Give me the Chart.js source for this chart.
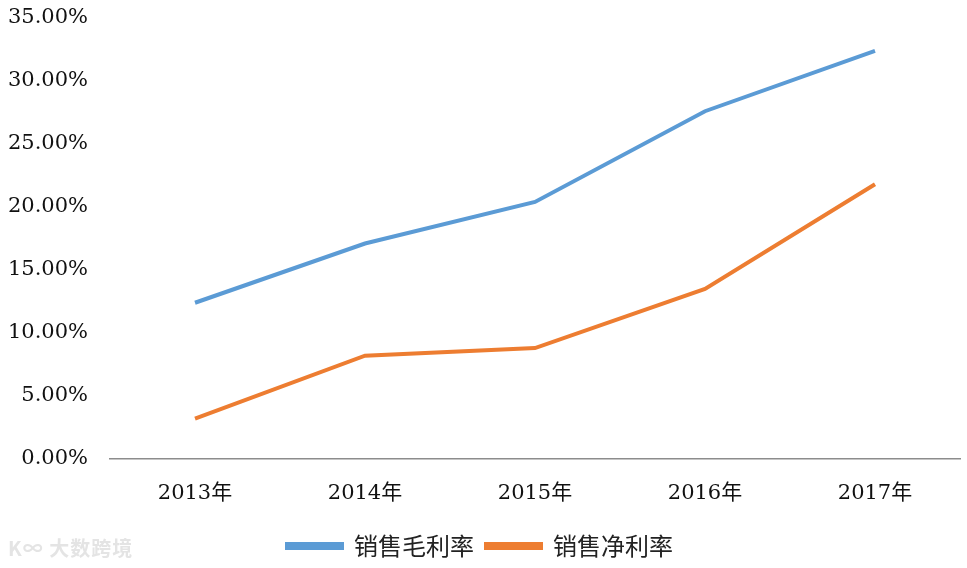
<!DOCTYPE html>
<html>
<head>
<meta charset="utf-8">
<script src="https://cdn.jsdelivr.net/npm/chart.js@4/dist/chart.umd.min.js"></script>
<style>
  html, body { margin: 0; padding: 0; background: #fff; }
  #wrap { position: relative; width: 967px; height: 568px; }
  #mark {
    position: absolute; left: 8px; top: 533px;
    font: bold 20px "Noto Sans CJK SC", sans-serif;
    color: #e4e4e4; letter-spacing: 1px;
  }
</style>
</head>
<body>
<div id="wrap">
  <canvas id="chart" width="967" height="568"></canvas>
  <div id="mark">K∞ 大数跨境</div>
</div>
<script>
const years = ["2013年", "2014年", "2015年", "2016年", "2017年"];
const grossMargin = [12.4, 17.1, 20.4, 27.6, 32.4];
const netMargin = [3.2, 8.2, 8.8, 13.5, 21.8];
const seriesNames = ["销售毛利率", "销售净利率"];

const BLUE = "#5b9bd5";
const ORANGE = "#ed7d31";
const tickFont = { family: "'DejaVu Serif', 'Noto Sans CJK SC', serif", size: 21 };

new Chart(document.getElementById("chart"), {
  type: "line",
  data: {
    labels: years,
    datasets: [
      {
        label: seriesNames[0],
        data: grossMargin,
        borderColor: BLUE,
        backgroundColor: BLUE,
        borderWidth: 4,
        pointRadius: 0,
        tension: 0
      },
      {
        label: seriesNames[1],
        data: netMargin,
        borderColor: ORANGE,
        backgroundColor: ORANGE,
        borderWidth: 4,
        pointRadius: 0,
        tension: 0
      }
    ]
  },
  options: {
    responsive: false,
    animation: false,
    layout: { padding: { top: 18, right: 7, left: 0, bottom: 0 } },
    plugins: {
      tooltip: { enabled: false },
      legend: {
        position: "bottom",
        labels: {
          boxWidth: 55,
          boxHeight: 4,
          padding: 12,
          color: "#222",
          font: { family: "'Noto Sans CJK SC', sans-serif", size: 24 }
        }
      }
    },
    scales: {
      x: {
        offset: true,
        grid: { display: false, drawTicks: false, offset: true },
        border: { color: "#8c8c8c", width: 1.5 },
        ticks: { color: "#111", font: tickFont, padding: 22, maxRotation: 0 },
        afterFit: (scale) => { scale.height = 63; }
      },
      y: {
        min: 0,
        max: 35,
        grid: { display: false, drawTicks: false },
        border: { display: false },
        ticks: {
          stepSize: 5,
          color: "#111",
          font: tickFont,
          padding: 22,
          callback: (v) => v.toFixed(2) + "%"
        },
        afterFit: (scale) => {
          scale.width = 110;
          scale.paddingTop = 0;
          scale.paddingBottom = 0;
        }
      }
    }
  }
});
</script>
</body>
</html>
